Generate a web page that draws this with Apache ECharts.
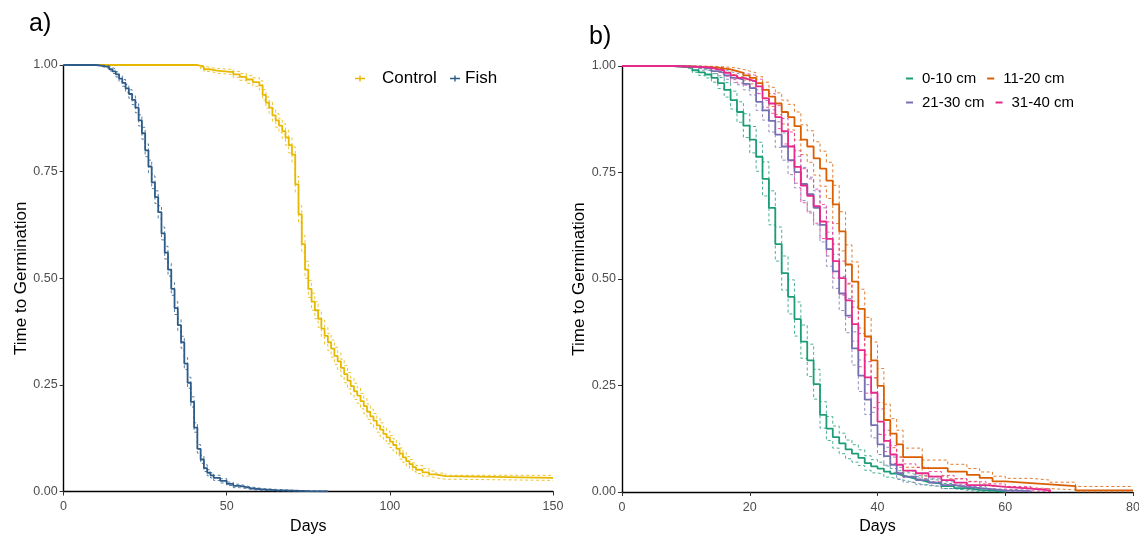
<!DOCTYPE html>
<html><head><meta charset="utf-8">
<script src="https://cdn.jsdelivr.net/npm/echarts@6/dist/echarts.min.js"></script>
<style>html,body{margin:0;padding:0;background:#fff}#c{width:1139px;height:536px}</style>
</head><body><div id="c"></div>
<script>
// ---------- Panel a ----------
const fishDays = [0,10,12,14,15,16,17,18,19,20,21,22,23,24,25,26,27,28,29,30,31,32,33,34,35,36,37,38,39,40,41,42,43,44,45,46,48,50,52,54,56,58,61,65,70,75,81];
const fishEst  = [1.000,0.998,0.995,0.990,0.985,0.978,0.968,0.958,0.945,0.932,0.918,0.900,0.870,0.840,0.800,0.762,0.725,0.690,0.655,0.605,0.560,0.520,0.475,0.430,0.390,0.350,0.300,0.255,0.210,0.150,0.100,0.075,0.055,0.044,0.038,0.032,0.025,0.018,0.013,0.010,0.007,0.005,0.003,0.002,0.001,0.0005,0];
const fishHi   = [1.000,1.000,0.998,0.994,0.990,0.984,0.975,0.966,0.954,0.942,0.929,0.912,0.883,0.854,0.815,0.777,0.740,0.705,0.670,0.620,0.575,0.535,0.490,0.445,0.404,0.364,0.314,0.268,0.222,0.161,0.110,0.084,0.063,0.051,0.044,0.038,0.030,0.022,0.017,0.013,0.010,0.007,0.005,0.003,0.002,0.001,0];
const fishLo   = [1.000,0.996,0.992,0.986,0.980,0.972,0.961,0.950,0.936,0.922,0.907,0.888,0.857,0.826,0.785,0.747,0.710,0.675,0.640,0.590,0.545,0.505,0.460,0.415,0.376,0.336,0.286,0.242,0.198,0.139,0.090,0.066,0.047,0.037,0.032,0.026,0.020,0.014,0.009,0.007,0.004,0.003,0.001,0.001,0,0,0];

const ctrlDays = [0,41,42,43,45,47,51,52,54,56,58,60,61,62,63,64,65,66,67,68,69,70,71,72,73,74,75,76,77,78,79,80,81,82,83,84,85,86,87,88,89,90,91,92,93,94,95,96,97,98,99,100,101,102,103,104,105,106,107,108,110,112,114,117,150];
const ctrlEst  = [1.000,0.998,0.995,0.990,0.987,0.984,0.984,0.978,0.972,0.966,0.960,0.952,0.930,0.912,0.900,0.882,0.870,0.858,0.845,0.830,0.812,0.790,0.720,0.650,0.580,0.520,0.475,0.445,0.425,0.405,0.382,0.365,0.350,0.335,0.318,0.305,0.290,0.275,0.260,0.247,0.235,0.225,0.212,0.200,0.187,0.176,0.166,0.155,0.145,0.135,0.127,0.117,0.109,0.100,0.089,0.080,0.071,0.064,0.057,0.051,0.045,0.040,0.036,0.032,0.032];
const ctrlHi   = [1.000,1.000,0.998,0.994,0.992,0.990,0.990,0.985,0.980,0.975,0.970,0.963,0.942,0.925,0.914,0.897,0.886,0.874,0.862,0.848,0.830,0.808,0.739,0.670,0.600,0.540,0.495,0.465,0.445,0.425,0.402,0.385,0.370,0.355,0.338,0.325,0.310,0.295,0.279,0.266,0.254,0.243,0.230,0.218,0.205,0.193,0.183,0.171,0.161,0.150,0.142,0.131,0.123,0.114,0.102,0.092,0.082,0.075,0.067,0.061,0.054,0.048,0.043,0.038,0.038];
const ctrlLo   = [1.000,0.996,0.991,0.985,0.981,0.978,0.978,0.971,0.964,0.957,0.950,0.941,0.918,0.899,0.886,0.867,0.854,0.842,0.828,0.812,0.794,0.772,0.701,0.630,0.560,0.500,0.455,0.425,0.405,0.385,0.362,0.345,0.330,0.315,0.298,0.285,0.270,0.255,0.241,0.228,0.216,0.207,0.194,0.182,0.169,0.159,0.149,0.139,0.129,0.120,0.112,0.103,0.095,0.086,0.076,0.068,0.060,0.054,0.047,0.042,0.036,0.032,0.029,0.026,0.026];

// ---------- Panel b ----------
const g1Days = [0,8,10,11,12,13,14,15,16,17,18,19,20,21,22,23,24,25,26,27,28,29,30,31,32,33,34,35,36,37,38,39,40,41,42,43,44,45,46,47,48,50,52,54,56,58,60];
const g1Est  = [1.000,0.998,0.996,0.990,0.985,0.980,0.972,0.960,0.944,0.920,0.892,0.860,0.827,0.787,0.735,0.667,0.582,0.514,0.458,0.406,0.353,0.309,0.253,0.181,0.149,0.129,0.114,0.100,0.090,0.080,0.068,0.060,0.055,0.048,0.043,0.039,0.035,0.031,0.027,0.023,0.020,0.014,0.009,0.005,0.003,0.001,0];
const g1Hi   = [1.000,1.000,0.999,0.995,0.992,0.988,0.982,0.973,0.961,0.941,0.916,0.888,0.858,0.821,0.775,0.707,0.622,0.554,0.498,0.446,0.392,0.347,0.288,0.212,0.177,0.155,0.138,0.122,0.111,0.099,0.085,0.076,0.070,0.061,0.055,0.050,0.045,0.041,0.036,0.031,0.027,0.020,0.014,0.009,0.006,0.003,0];
const g1Lo   = [1.000,0.996,0.993,0.985,0.978,0.972,0.962,0.947,0.927,0.899,0.868,0.832,0.796,0.753,0.695,0.627,0.542,0.474,0.418,0.366,0.314,0.271,0.218,0.150,0.121,0.103,0.090,0.078,0.070,0.062,0.051,0.045,0.041,0.035,0.031,0.028,0.025,0.021,0.018,0.015,0.013,0.008,0.004,0.001,0,0,0];

const g2Days = [0,9,13,15,17,18,19,20,21,22,23,24,25,26,27,28,29,30,31,32,33,34,35,36,37,38,39,40,41,42,43,44,47,51,54,56,58,60,64,67,71,80];
const g2Est  = [1.000,0.998,0.996,0.992,0.988,0.984,0.978,0.972,0.960,0.944,0.928,0.912,0.892,0.880,0.859,0.827,0.811,0.783,0.759,0.731,0.675,0.612,0.534,0.494,0.430,0.365,0.309,0.249,0.169,0.137,0.112,0.082,0.056,0.048,0.040,0.033,0.025,0.021,0.018,0.014,0.004,0.004];
const g2Hi   = [1.000,1.000,0.999,0.997,0.995,0.992,0.988,0.984,0.975,0.962,0.950,0.937,0.920,0.910,0.892,0.862,0.848,0.822,0.800,0.774,0.720,0.658,0.580,0.540,0.476,0.410,0.352,0.290,0.206,0.172,0.145,0.103,0.075,0.065,0.055,0.047,0.037,0.032,0.028,0.023,0.013,0.013];
const g2Lo   = [1.000,0.996,0.992,0.986,0.980,0.975,0.967,0.958,0.944,0.925,0.905,0.886,0.864,0.850,0.826,0.792,0.774,0.744,0.718,0.689,0.630,0.566,0.488,0.448,0.385,0.322,0.268,0.210,0.134,0.104,0.082,0.058,0.037,0.031,0.025,0.019,0.013,0.010,0.008,0.005,0,0];

const g3Days = [0,8,12,14,15,16,17,18,19,20,21,22,23,24,25,26,27,28,29,30,31,32,33,34,35,36,37,38,39,40,41,42,43,44,46,48,50,52,54,57,60,64];
const g3Est  = [1.000,0.998,0.994,0.988,0.984,0.978,0.972,0.968,0.958,0.948,0.916,0.896,0.871,0.839,0.811,0.779,0.751,0.723,0.699,0.667,0.627,0.570,0.518,0.466,0.414,0.337,0.273,0.217,0.157,0.112,0.084,0.064,0.044,0.036,0.028,0.022,0.016,0.012,0.008,0.004,0.002,0];
const g3Hi   = [1.000,1.000,0.998,0.994,0.991,0.987,0.983,0.980,0.972,0.964,0.936,0.919,0.897,0.869,0.843,0.813,0.788,0.762,0.739,0.707,0.667,0.610,0.558,0.506,0.454,0.376,0.310,0.252,0.187,0.136,0.105,0.082,0.058,0.049,0.039,0.031,0.024,0.018,0.013,0.007,0.004,0];
const g3Lo   = [1.000,0.996,0.990,0.982,0.977,0.969,0.961,0.956,0.944,0.932,0.896,0.873,0.845,0.809,0.779,0.745,0.714,0.684,0.659,0.627,0.587,0.530,0.478,0.426,0.374,0.298,0.236,0.182,0.127,0.088,0.063,0.046,0.030,0.023,0.017,0.013,0.008,0.006,0.003,0.001,0,0];

const g4Days = [0,8,12,14,15,16,17,18,19,20,21,22,23,24,25,26,27,28,29,30,31,32,33,34,35,36,37,38,39,40,41,42,43,44,46,48,50,52,54,57,60,64,67];
const g4Est  = [1.000,0.998,0.996,0.992,0.990,0.984,0.978,0.972,0.968,0.964,0.952,0.924,0.912,0.880,0.847,0.811,0.763,0.719,0.695,0.671,0.635,0.594,0.542,0.502,0.450,0.394,0.333,0.269,0.233,0.165,0.120,0.088,0.064,0.050,0.044,0.036,0.028,0.022,0.016,0.012,0.008,0.004,0];
const g4Hi   = [1.000,1.000,0.999,0.997,0.996,0.992,0.988,0.984,0.981,0.978,0.969,0.945,0.935,0.907,0.877,0.845,0.801,0.759,0.735,0.711,0.675,0.634,0.582,0.542,0.490,0.434,0.372,0.306,0.268,0.195,0.145,0.109,0.082,0.066,0.058,0.048,0.039,0.031,0.024,0.019,0.013,0.008,0];
const g4Lo   = [1.000,0.996,0.993,0.987,0.984,0.976,0.968,0.960,0.955,0.950,0.935,0.903,0.889,0.853,0.817,0.777,0.725,0.679,0.655,0.631,0.595,0.554,0.502,0.462,0.410,0.354,0.294,0.232,0.198,0.135,0.095,0.067,0.046,0.034,0.030,0.024,0.017,0.013,0.008,0.005,0.003,0.001,0];

const yTicks = [0, 0.25, 0.5, 0.75, 1];
const legendA = ['Control', 'Fish'];
const legendB1 = ['0-10 cm', '11-20 cm'];
const legendB2 = ['21-30 cm', '31-40 cm'];

const COL = {Control:'#E7B800', Fish:'#2E5C8A', '0-10 cm':'#1B9E77', '11-20 cm':'#D95F02', '21-30 cm':'#7570B3', '31-40 cm':'#E7298A'};
const FONT = "'Liberation Sans', Arial, sans-serif";

function zip(d, v){ return d.map((x,i)=>[x, v[i]]); }
function km(name, d, v, gi, z){
  return {type:'line', name, xAxisIndex:gi, yAxisIndex:gi, data:zip(d,v), step:'end', symbol:'none', showSymbol:false,
    color:COL[name], lineStyle:{color:COL[name], width:1.8}, z, silent:true, animation:false};
}
function ci(name, d, v, gi, z, tag){
  return {type:'line', name:name+tag, xAxisIndex:gi, yAxisIndex:gi, data:zip(d,v), step:'end', symbol:'none', showSymbol:false,
    color:COL[name], lineStyle:{color:COL[name], width:1, type:[3,2.5], opacity:0.8}, z, silent:true, animation:false};
}
function xAx(gi, max, interval){
  return {gridIndex:gi, type:'value', min:0, max, interval, name:'Days', nameLocation:'middle', nameGap:25,
    nameTextStyle:{fontSize:16, color:'#000', fontFamily:FONT},
    axisLine:{onZero:false, lineStyle:{color:'#000', width:1.4}}, axisTick:{length:4, lineStyle:{color:'#333', width:1}},
    axisLabel:{color:'#4D4D4D', fontSize:12.5, margin:9, fontFamily:FONT}, splitLine:{show:false}};
}
function yAx(gi, gap){
  return {gridIndex:gi, type:'value', min:yTicks[0], max:yTicks[yTicks.length-1], interval:0.25, name:'Time to Germination',
    nameLocation:'middle', nameGap:gap, nameTextStyle:{fontSize:17, color:'#000', fontFamily:FONT},
    axisLine:{show:true, onZero:false, lineStyle:{color:'#000', width:1.4}}, axisTick:{show:true, length:4, lineStyle:{color:'#333', width:1}},
    axisLabel:{color:'#4D4D4D', fontSize:12.5, margin:6, fontFamily:FONT, formatter:v=>v.toFixed(2)}, splitLine:{show:false}};
}

const plusIcon = 'path://M0,3.2L10,3.2L10,4.8L0,4.8Z M4.3,1L5.7,1L5.7,7L4.3,7Z';
function legendOf(names, left, top, icon, w, h, gap, fs, pad){
  return {data:names.map(n=>({name:n, icon, itemStyle:{color:COL[n]}})), left, top, orient:'horizontal', padding:0,
    itemWidth:w, itemHeight:h, itemGap:gap, selectedMode:false,
    textStyle:{fontSize:fs, color:'#000', fontFamily:FONT, padding:[0,0,0,pad]}};
}

const option = {
  animation:false,
  backgroundColor:'#fff',
  textStyle:{fontFamily:FONT},
  grid:[
    {left:63.6, top:65, width:489.4, height:426.5, containLabel:false, outerBoundsMode:'none'},
    {left:622, top:66, width:511, height:426, containLabel:false, outerBoundsMode:'none'}
  ],
  xAxis:[xAx(0,150,50), xAx(1,80,20)],
  yAxis:[yAx(0,33), yAx(1,34)],
  legend:[
    legendOf([legendA[0]], 355, 70, plusIcon, 10, 8, 0, 17, 12),
    legendOf([legendA[1]], 450, 70, plusIcon, 10, 8, 0, 17, 0),
    legendOf(legendB1, 906, 71, 'rect', 7, 2, 11, 15, 4),
    legendOf(legendB2, 906, 95, 'rect', 7, 2, 11, 15, 4)
  ],
  graphic:[
    {type:'text', left:29, top:12, style:{text:'a)', fontSize:25, fill:'#000', fontFamily:FONT}},
    {type:'text', left:589, top:25, style:{text:'b)', fontSize:25, fill:'#000', fontFamily:FONT}}
  ],
  series:[
    ci('Control', ctrlDays, ctrlHi, 0, 2, ' hi'), ci('Control', ctrlDays, ctrlLo, 0, 2, ' lo'),
    km('Control', ctrlDays, ctrlEst, 0, 3),
    ci('Fish', fishDays, fishHi, 0, 4, ' hi'), ci('Fish', fishDays, fishLo, 0, 4, ' lo'),
    km('Fish', fishDays, fishEst, 0, 5),

    ci('0-10 cm', g1Days, g1Hi, 1, 2, ' hi'), ci('0-10 cm', g1Days, g1Lo, 1, 2, ' lo'),
    ci('11-20 cm', g2Days, g2Hi, 1, 2, ' hi'), ci('11-20 cm', g2Days, g2Lo, 1, 2, ' lo'),
    ci('21-30 cm', g3Days, g3Hi, 1, 2, ' hi'), ci('21-30 cm', g3Days, g3Lo, 1, 2, ' lo'),
    ci('31-40 cm', g4Days, g4Hi, 1, 2, ' hi'), ci('31-40 cm', g4Days, g4Lo, 1, 2, ' lo'),
    km('0-10 cm', g1Days, g1Est, 1, 3),
    km('11-20 cm', g2Days, g2Est, 1, 4),
    km('21-30 cm', g3Days, g3Est, 1, 5),
    km('31-40 cm', g4Days, g4Est, 1, 6)
  ]
};
const chart = echarts.init(document.getElementById('c'), null, {renderer:'canvas'});
chart.setOption(option);
</script></body></html>
